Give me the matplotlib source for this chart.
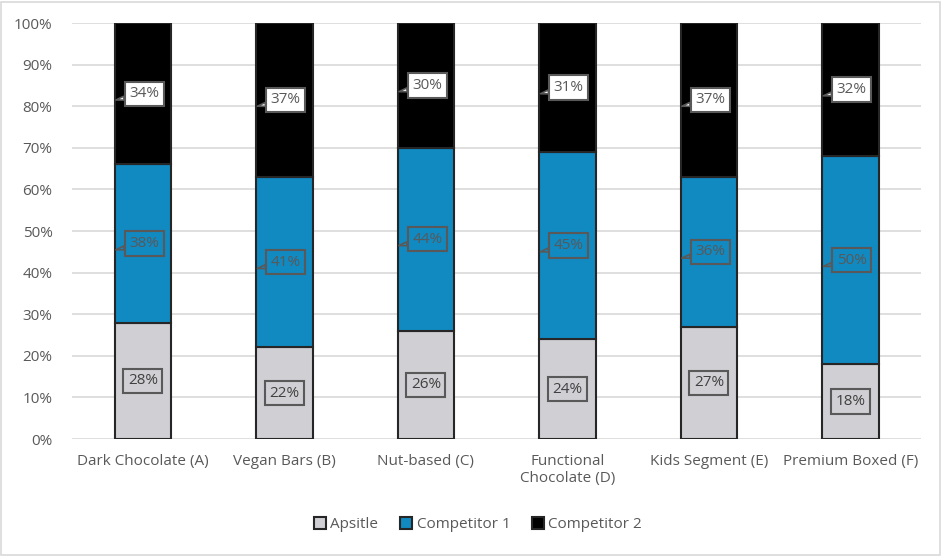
import numpy as np
import matplotlib.pyplot as plt
from matplotlib.patches import Rectangle

plt.rcParams['font.family'] = ['Open Sans', 'DejaVu Sans']

categories = ["Dark Chocolate (A)", "Vegan Bars (B)", "Nut-based (C)",
              "Functional\nChocolate (D)", "Kids Segment (E)", "Premium Boxed (F)"]
apsitle = [28, 22, 26, 24, 27, 18]
competitor1 = [38, 41, 44, 45, 36, 50]
competitor2 = [34, 37, 30, 31, 37, 32]

series_names = ["Apsitle", "Competitor 1", "Competitor 2"]
colors = ["#D0CFD4", "#1189C1", "#000000"]
grey = "#595959"

fig = plt.figure(figsize=(9.42, 5.56), dpi=100)
ax = fig.add_axes([0.0765, 0.2104, 0.9013, 0.7482])

x = np.arange(len(categories))
width = 0.4
bottom = np.zeros(len(categories))
for vals, name, col in zip([apsitle, competitor1, competitor2], series_names, colors):
    vals = np.array(vals)
    ax.bar(x, vals, width, bottom=bottom, color=col, edgecolor="#262626",
           linewidth=1.5, label=name, zorder=3)
    for i, v in enumerate(vals):
        yc = bottom[i] + v / 2
        face = "white" if name == "Competitor 2" else "none"
        if name == "Apsitle":
            ax.text(x[i], yc, f"{v}%", ha="center", va="center", fontsize=11,
                    color="#404040", zorder=5,
                    bbox=dict(boxstyle="square,pad=0.3", fc=face, ec=grey, lw=1.5))
        else:
            ax.annotate(f"{v}%", xy=(x[i] - 0.19, yc - 1.5), xytext=(x[i] + 0.01, yc),
                        ha="center", va="center", fontsize=11, color=grey, zorder=5,
                        bbox=dict(boxstyle="square,pad=0.3", fc=face, ec=grey, lw=1.5),
                        arrowprops=dict(arrowstyle="wedge,tail_width=0.25", fc=face,
                                        ec=grey, lw=1.2, shrinkA=0, shrinkB=0))
    bottom += vals

ax.set_xlim(-0.5, len(categories) - 0.5)
ax.set_ylim(0, 100)
ax.set_yticks(np.arange(0, 101, 10))
ax.set_yticklabels([f"{t}%" for t in range(0, 101, 10)])
ax.set_xticks(x)
ax.set_xticklabels(categories)
ax.tick_params(axis="both", length=0, labelsize=11, labelcolor=grey)
ax.tick_params(axis="y", pad=14)
ax.tick_params(axis="x", pad=11)
ax.grid(axis="y", color="#D9D9D9", linewidth=1.2, zorder=0)
for s in ax.spines.values():
    s.set_visible(False)

leg = ax.legend(loc="upper center", bbox_to_anchor=(0.478, -0.155), ncol=3,
                frameon=False, fontsize=11, handlelength=0.8, handleheight=0.8,
                handletextpad=0.3, columnspacing=1.4)
for t in leg.get_texts():
    t.set_color(grey)

fig.patches.append(Rectangle((0.001, 0.002), 0.997, 0.995, transform=fig.transFigure,
                             fill=False, ec="#D9D9D9", lw=1.2))

fig.savefig("out.png", dpi=100)
